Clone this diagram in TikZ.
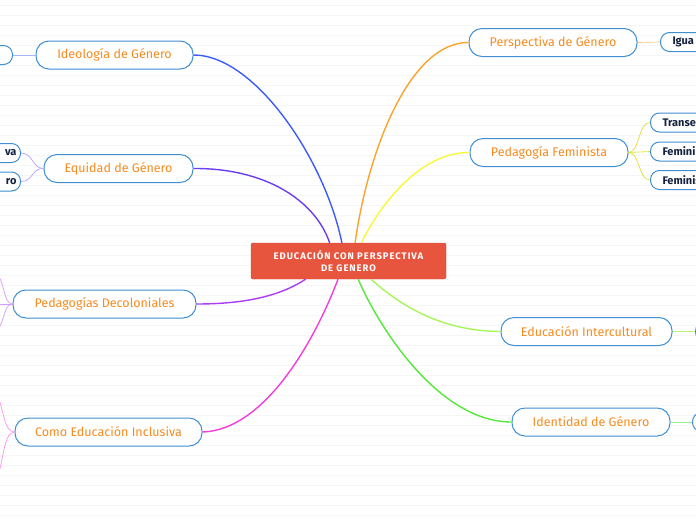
\documentclass[tikz,border=0pt]{standalone}
\usepackage{fontspec}
\setmainfont{Fira Sans}
\usetikzlibrary{positioning}

\definecolor{nodeblue}{HTML}{3F8FD2}
\definecolor{labelorange}{HTML}{F68B1F}
\definecolor{childnavy}{HTML}{14213F}
\definecolor{rootred}{HTML}{E8553E}
\definecolor{paperline}{HTML}{F5F5F5}
\definecolor{brblue}{HTML}{3D5CFF}
\definecolor{brindigo}{HTML}{6A3DF5}
\definecolor{brviolet}{HTML}{A93DF5}
\definecolor{brmagenta}{HTML}{F53DDC}
\definecolor{brorange}{HTML}{FBA32A}
\definecolor{bryellow}{HTML}{F8F83A}
\definecolor{brlime}{HTML}{A8F55A}
\definecolor{brgreen}{HTML}{55E83A}

\tikzset{
  root/.style={fill=rootred, draw=rootred!85!black, line width=0.4pt, rounded corners=2pt,
    minimum width=195pt, minimum height=36pt, align=center, text=white,
    font=\fontsize{9.5}{12.5}\selectfont\bfseries\addfontfeature{LetterSpace=10}},
  topic/.style={draw=nodeblue, line width=1pt, fill=white, rounded corners=13pt,
    minimum height=28pt, inner xsep=10pt, text=labelorange,
    font=\fontsize{12.5}{14}\selectfont},
  subtopic/.style={draw=nodeblue, line width=1pt, fill=white, rounded corners=9pt,
    minimum height=19pt, inner xsep=7pt, text=childnavy,
    font=\fontsize{11}{12}\selectfont\bfseries},
  branch/.style={line width=1.4pt},
  twig/.style={line width=0.7pt},
  paper/.style={paperline, line width=0.6pt}
}

\begin{document}
\begin{tikzpicture}[x=1pt, y=-1pt]
\useasboundingbox (0,0) rectangle (696,520);
\clip (0,0) rectangle (696,520);

% Lined paper background
\foreach \yy in {5,15,...,515}
  \draw[paper] (0,\yy) -- (696,\yy);

% Central idea
\node[root] (root) at (348.5,261) {EDUCACI\'ON CON PERSPECTIVA\\DE GENERO};

% Main topics, left side
\node[topic, minimum width=157pt] (ideo) at (114.5,55) {Ideología de Género};
\node[topic, minimum width=149pt] (equi) at (118.5,168.5) {Equidad de Género};
\node[topic, minimum width=183pt] (deco) at (104.5,304) {Pedagogías Decoloniales};
\node[topic, minimum width=187pt] (incl) at (108.5,432) {Como Educación Inclusiva};

% Main topics, right side
\node[topic, minimum width=168pt] (persp) at (553,42.5) {Perspectiva de Género};
\node[topic, minimum width=158pt] (femi) at (549,152.5) {Pedagogía Feminista};
\node[topic, minimum width=171pt] (inter) at (586.5,331.5) {Educación Intercultural};
\node[topic, minimum width=158pt] (ident) at (591,422) {Identidad de Género};

% Sub topics (cut by the page edge)
\node[subtopic, anchor=east, text width=90pt] (ideoA) at (13,55) {};
\node[subtopic, anchor=east, text width=90pt, align=right, inner xsep=4pt] (equiA) at (21,153) {va};
\node[subtopic, anchor=east, text width=90pt, align=right, inner xsep=4pt] (equiB) at (21,181.5) {ro};
\node[subtopic, anchor=west, text width=90pt, align=left, inner xsep=12pt] (perspA) at (660,42) {Igua};
\node[subtopic, anchor=west, text width=90pt, align=left, inner xsep=12pt] (femiA) at (650,122.5) {Transe};
\node[subtopic, anchor=west, text width=90pt, align=left, inner xsep=12pt] (femiB) at (650,151.5) {Femini};
\node[subtopic, anchor=west, text width=90pt, align=left, inner xsep=12pt] (femiC) at (650,180) {Feminis};
\node[subtopic, anchor=west, text width=90pt] (interA) at (695,331.5) {};
\node[subtopic, anchor=west, text width=90pt] (identA) at (692,422) {};

% Off-page ends
\coordinate (decoA) at (-8,270);
\coordinate (decoB) at (-8,304);
\coordinate (decoC) at (-8,334);
\coordinate (inclA) at (-6,392);
\coordinate (inclB) at (-6,484);

% Branches from the centre
\draw[branch, brblue] (ideo.east) .. controls (255,55) and (325,160) .. (root.110);
\draw[branch, brindigo] (equi.east) .. controls (265,168) and (315,200) .. (root.136);
\draw[branch, brviolet] (deco.east) .. controls (245,304) and (280,296) .. (root.203);
\draw[branch, brmagenta] (incl.east) .. controls (265,430) and (315,340) .. (root.240);
\draw[branch, brorange] (persp.west) .. controls (410,42) and (368,150) .. (root.70);
\draw[branch, bryellow] (femi.west) .. controls (420,152) and (380,205) .. (root.55);
\draw[branch, brlime] (inter.west) .. controls (440,331) and (400,305) .. (root.321);
\draw[branch, brgreen] (ident.west) .. controls (440,422) and (380,330) .. (root.298);

% Twigs to sub topics
\draw[twig, brblue!45] (ideo.west) -- (ideoA.east);
\draw[twig, brindigo!50] (equi.west) .. controls (32,168) and (33,153) .. (equiA.east);
\draw[twig, brindigo!50] (equi.west) .. controls (32,168) and (33,181.5) .. (equiB.east);
\draw[twig, brviolet!50] (deco.west) .. controls (2,304) and (6,276) .. (decoA);
\draw[twig, brviolet!50] (deco.west) -- (decoB);
\draw[twig, brviolet!50] (deco.west) .. controls (2,304) and (6,328) .. (decoC);
\draw[twig, brmagenta!55] (incl.west) .. controls (2,432) and (4,400) .. (inclA);
\draw[twig, brmagenta!55] (incl.west) .. controls (2,432) and (4,470) .. (inclB);
\draw[twig, brorange!60] (persp.east) -- (perspA.west);
\draw[twig, bryellow!90!black] (femi.east) .. controls (640,152) and (638,122.5) .. (femiA.west);
\draw[twig, bryellow!90!black] (femi.east) -- (femiB.west);
\draw[twig, bryellow!90!black] (femi.east) .. controls (640,152) and (638,180) .. (femiC.west);
\draw[twig, brlime!80] (inter.east) -- (interA.west);
\draw[twig, brgreen!60] (ident.east) -- (identA.west);
\end{tikzpicture}
\end{document}
